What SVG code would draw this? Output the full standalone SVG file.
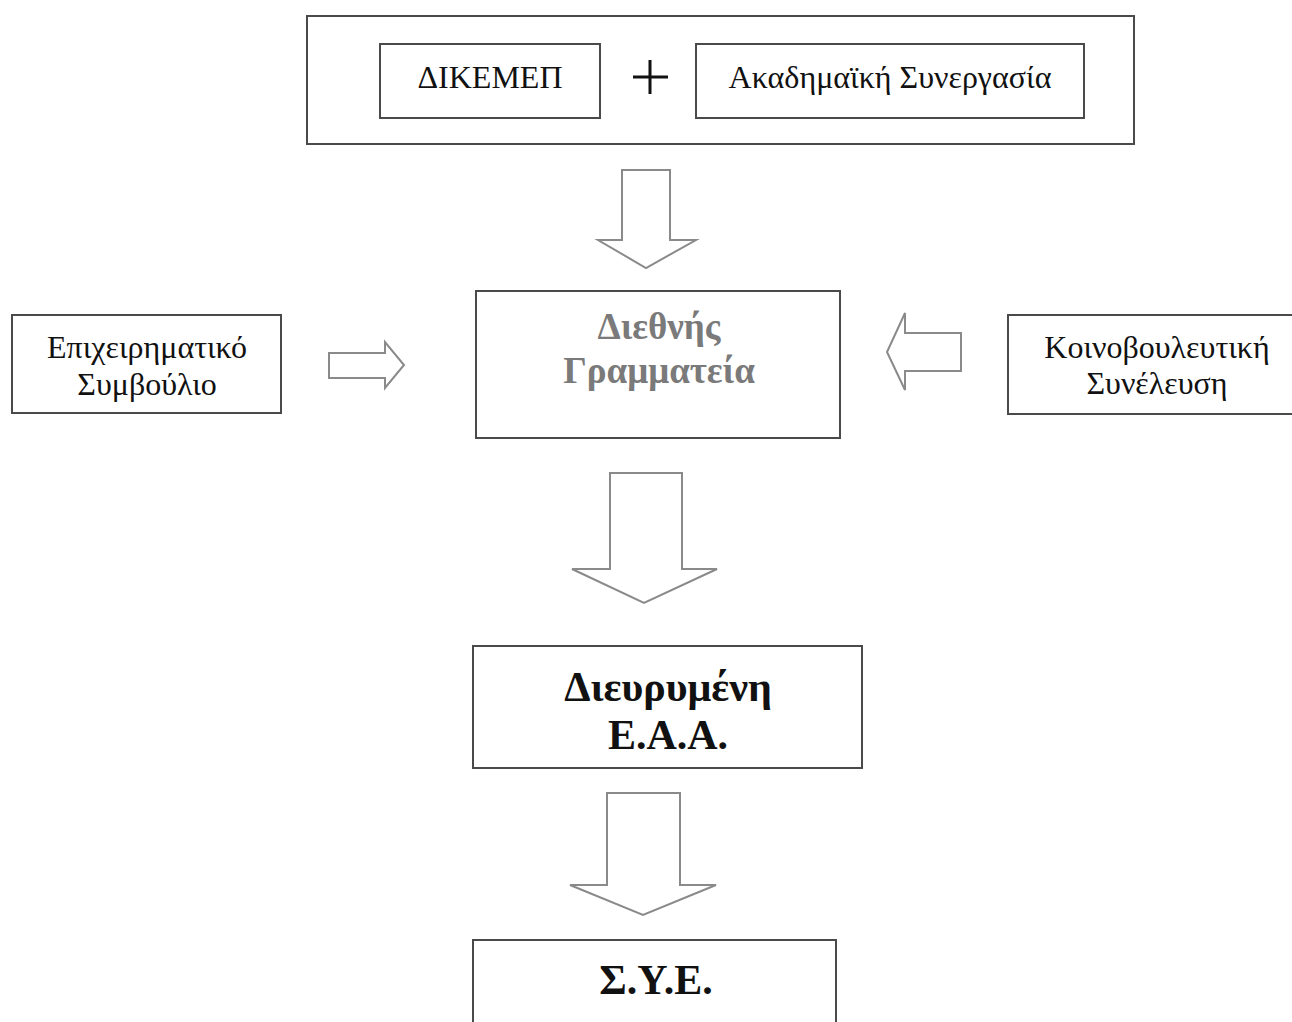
<svg xmlns="http://www.w3.org/2000/svg" width="1292" height="1022" viewBox="0 0 1292 1022">
<style>
.box{fill:#fff;stroke:#4a4a4a;stroke-width:2}
.arr{fill:#fff;stroke:#8a8a8a;stroke-width:2;stroke-linejoin:miter}
.t{font-family:"Liberation Serif","DejaVu Serif",serif;font-size:32px;fill:#111;text-anchor:middle}
.b{font-weight:bold;font-size:42px}
.g{fill:#7a7a7a;font-size:37px}
</style>
<rect width="1292" height="1022" fill="#fff"/>
<g id="top">
<rect class="box" x="307" y="16" width="827" height="128"/>
</g>
<g id="dikemep">
<rect class="box" x="380" y="44" width="220" height="74"/>
<text class="t" x="490" y="88">ΔΙΚΕΜΕΠ</text>
</g>
<g id="plus">
<path d="M650 60 V94 M633 77 H668" stroke="#111" stroke-width="3" fill="none"/>
</g>
<g id="akad">
<rect class="box" x="696" y="44" width="388" height="74"/>
<text class="t" x="890" y="88">Ακαδημαϊκή Συνεργασία</text>
</g>
<g id="diethnis">
<rect class="box" x="476" y="291" width="364" height="147"/>
<text class="t b g" x="659" y="339">Διεθνής</text>
<text class="t b g" x="659" y="383">Γραμματεία</text>
</g>
<g id="epix">
<rect class="box" x="12" y="315" width="269" height="98"/>
<text class="t" x="147" y="358">Επιχειρηματικό</text>
<text class="t" x="147" y="395">Συμβούλιο</text>
</g>
<g id="koino">
<rect class="box" x="1008" y="315" width="290" height="99"/>
<text class="t" x="1157" y="358">Κοινοβουλευτική</text>
<text class="t" x="1157" y="394">Συνέλευση</text>
</g>
<g id="dieur">
<rect class="box" x="473" y="646" width="389" height="122"/>
<text class="t b" x="668" y="701">Διευρυμένη</text>
<text class="t b" x="668" y="749">Ε.Α.Α.</text>
</g>
<g id="sye">
<rect class="box" x="473" y="940" width="363" height="100"/>
<text class="t b" x="656" y="994">Σ.Υ.Ε.</text>
</g>
<g id="connectors">
<polygon class="arr" points="622,170 670,170 670,240 696,240 646,268 598,240 622,240"/>
<polygon class="arr" points="329,353 385,353 385,342 404,365 385,388 385,378 329,378"/>
<polygon class="arr" points="961,333 905,333 905,313 887,352 905,390 905,371 961,371"/>
<polygon class="arr" points="610,473 682,473 682,569 717,569 644,603 572,569 610,569"/>
<polygon class="arr" points="607,793 680,793 680,885 716,885 643,915 570,885 607,885"/>
</g>
</svg>
